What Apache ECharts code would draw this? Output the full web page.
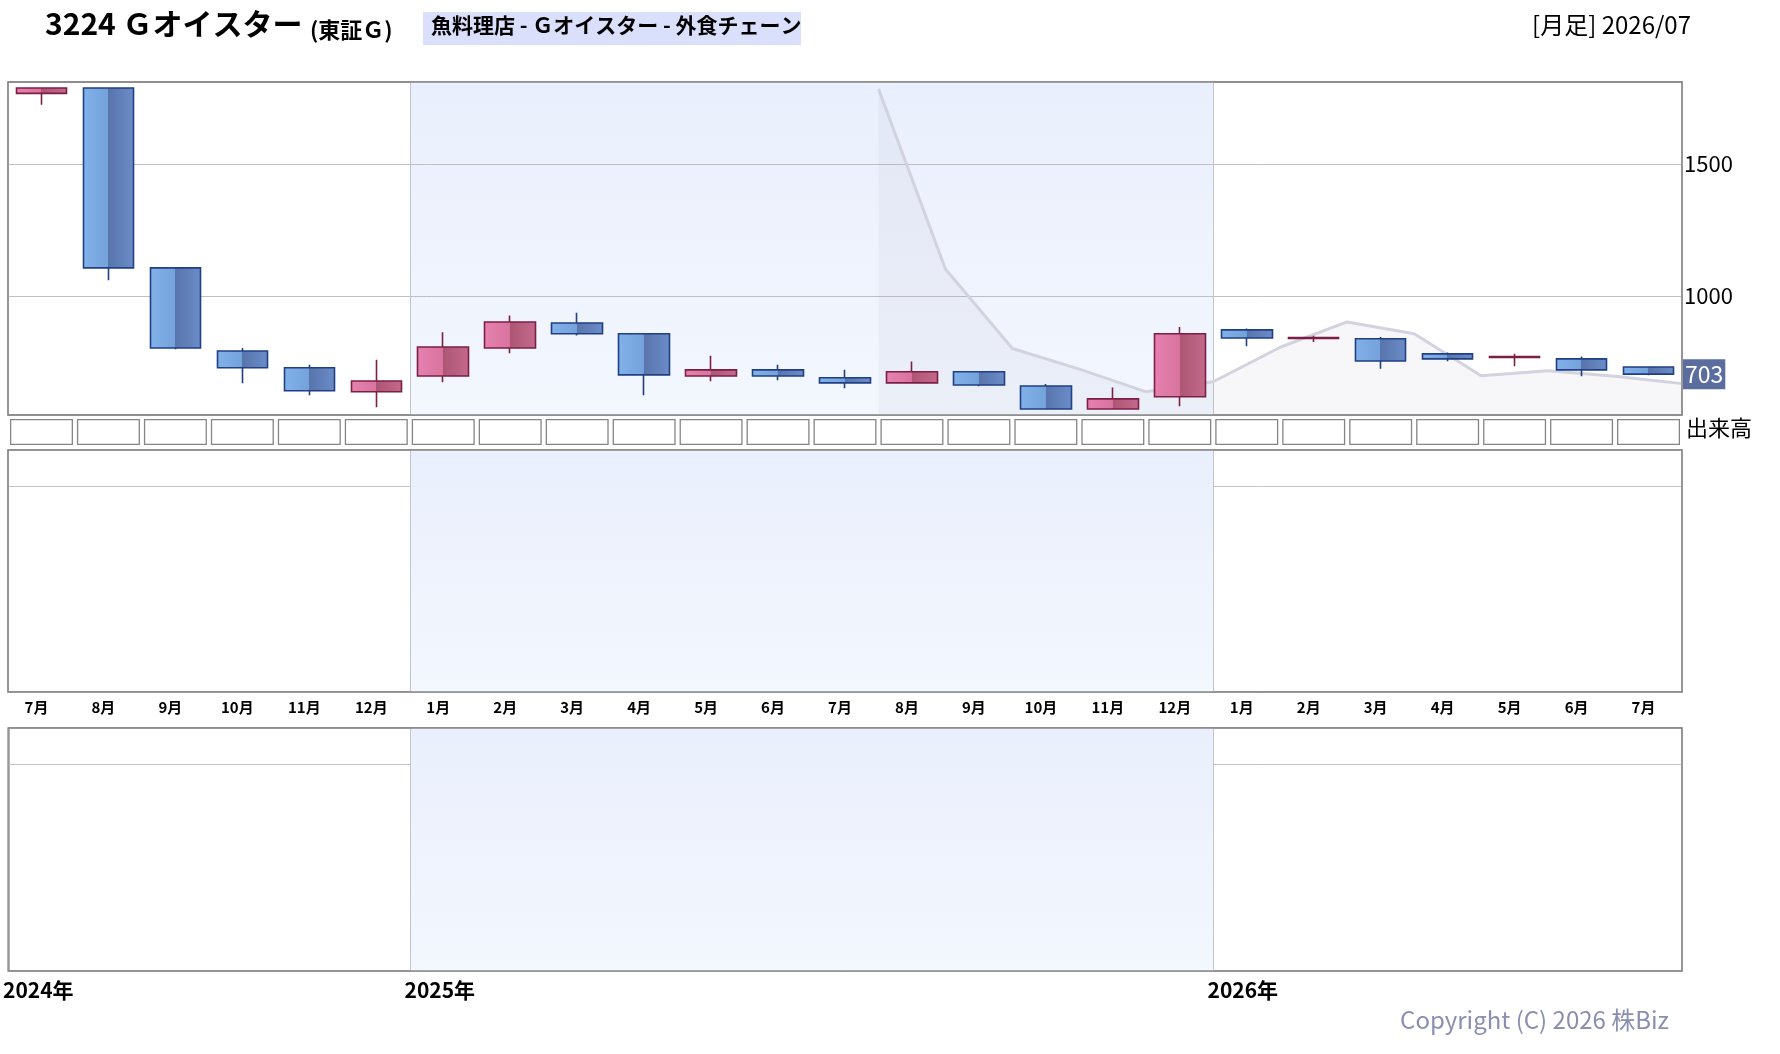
<!DOCTYPE html>
<html>
<head>
<meta charset="utf-8">
<script src="https://cdn.jsdelivr.net/npm/echarts@6/dist/echarts.min.js"></script>
<style>
html,body{margin:0;padding:0;background:#fff;}
#chart{width:1780px;height:1054px;}
</style>
</head>
<body>
<div id="chart"></div>
<script>
// ---- data ----
const months = ['2024/07','2024/08','2024/09','2024/10','2024/11','2024/12',
  '2025/01','2025/02','2025/03','2025/04','2025/05','2025/06','2025/07','2025/08','2025/09','2025/10','2025/11','2025/12',
  '2026/01','2026/02','2026/03','2026/04','2026/05','2026/06','2026/07'];
const monthLabels = ['7月','8月','9月','10月','11月','12月',
  '1月','2月','3月','4月','5月','6月','7月','8月','9月','10月','11月','12月',
  '1月','2月','3月','4月','5月','6月','7月'];
const opens  = [1768,1788,1106,791,727,636,696,802,897,856,696,719,689,670,712,658,571,617,871,838,837,780,766,761,730];
const closes = [1788,1106,802,727,640,677,806,901,856,700,719,696,670,712,662,571,609,856,840,842,753,761,770,719,703];
const lows   = [1725,1059,797,668,623,577,672,782,850,623,676,680,649,670,657,571,571,581,809,825,723,752,733,695,699];
const highs  = [1790,1790,1106,802,739,758,862,925,936,856,773,739,720,751,712,666,652,882,876,849,844,785,780,770,731];
// month boundaries (start of each month, plus end)
const monthStarts = ['2024/07','2024/08','2024/09','2024/10','2024/11','2024/12',
  '2025/01','2025/02','2025/03','2025/04','2025/05','2025/06','2025/07','2025/08','2025/09','2025/10','2025/11','2025/12',
  '2026/01','2026/02','2026/03','2026/04','2026/05','2026/06','2026/07','2026/08'];
const yearTickLabels = ['2024年','','','','','','2025年','','','','','','','','','','','','2026年','','','','','','',''];
const trendLine = [null,null,null,null,null,null,null,null,null,null,null,null,null,
  1785,1102,800,722,636,674,805,901,856,697,716,695,667];
const volumeCells = [1,1,1,1,1,1,1,1,1,1,1,1,1,1,1,1,1,1,1,1,1,1,1,1,1];
const priceTicks = [1000,1500];
const shadeFrom = '2025/01', shadeTo = '2026/01';
const yearBounds = ['2025/01','2026/01'];

// ---- styles ----
const FONT = '"Noto Sans CJK JP", "Noto Sans", sans-serif';
const upFill = {type:'linear',x:0,y:0,x2:1,y2:0,colorStops:[
  {offset:0,color:'#e682b0'},{offset:0.49,color:'#d9739f'},{offset:0.5,color:'#ad5673'},{offset:1,color:'#c46a8c'}]};
const downFill = {type:'linear',x:0,y:0,x2:1,y2:0,colorStops:[
  {offset:0,color:'#82b2ea'},{offset:0.49,color:'#74a2da'},{offset:0.5,color:'#5874ad'},{offset:1,color:'#6b8dc8'}]};
const shadeFill = {type:'linear',x:0,y:0,x2:0,y2:1,colorStops:[
  {offset:0,color:'#e9effc'},{offset:1,color:'#f3f7fe'}]};
const sepLine = {color:'#c2c4cc',width:1,type:'solid'};

const chart = echarts.init(document.getElementById('chart'), null, {renderer:'canvas'});

const L = 8, W = 1674;
const grids = [
  {left:L, top:82, width:W, height:333},
  {left:L, top:419, width:W, height:26},
  {left:L, top:450, width:W, height:242},
  {left:L, top:728, width:W, height:243}
];
const gridOpts = grids.map((g,i)=>Object.assign({}, g, {
  show: i!==1, backgroundColor:'#fff', borderColor:'#888', borderWidth: i===1?0:1.3, z:0
}));
// border overlays
[0,2,3].forEach(i=>gridOpts.push(Object.assign({}, grids[i], {show:true, backgroundColor:'transparent', borderColor:'#888', borderWidth:1.3, z:20})));

function shadeSeries(xi, yi){
  return {
    type:'line', xAxisIndex:xi, yAxisIndex:yi, data:[], silent:true, z:1,
    markArea:{silent:true, z:1, itemStyle:{color:shadeFill}, data:[[{xAxis:shadeFrom},{xAxis:shadeTo}]]},
    markLine:{silent:true, z:1, symbol:['none','none'], label:{show:false}, lineStyle:sepLine,
      data: yearBounds.map(b=>({xAxis:b}))}
  };
}

const lastClose = closes[closes.length-1];

const option = {
  animation:false,
  textStyle:{fontFamily:FONT},
  grid: gridOpts,
  xAxis:[
    {type:'category', gridIndex:0, data:months, show:false},
    {type:'category', gridIndex:0, data:monthStarts, boundaryGap:false, show:false},
    {type:'category', gridIndex:1, data:months, show:false},
    {type:'category', gridIndex:2, data:months, axisLine:{show:false}, axisTick:{show:false}, splitLine:{show:false},
      axisLabel:{interval:0, margin:8, color:'#000', fontSize:15, fontWeight:'bold', fontFamily:FONT, padding:[0,10,0,0],
        formatter:(v,i)=>monthLabels[i]}},
    {type:'category', gridIndex:2, data:monthStarts, boundaryGap:false, show:false},
    {type:'category', gridIndex:3, data:monthStarts, boundaryGap:false, axisLine:{show:false}, axisTick:{show:false}, splitLine:{show:false},
      axisLabel:{interval:0, margin:9, align:'left', color:'#000', fontSize:21, fontWeight:'bold', fontFamily:FONT, padding:[0,0,0,-6],
        formatter:(v,i)=>yearTickLabels[i]}}
  ],
  yAxis:[
    {type:'value', gridIndex:0, min:548, max:1811, show:false},
    {type:'value', gridIndex:1, min:0, max:1, show:false},
    {type:'value', gridIndex:2, min:0, max:1, interval:0.85, axisLine:{show:false}, axisTick:{show:false}, axisLabel:{show:false},
      splitLine:{show:true, lineStyle:{color:'#c4c4c4', width:1}}},
    {type:'value', gridIndex:3, min:0, max:1, interval:0.85, axisLine:{show:false}, axisTick:{show:false}, axisLabel:{show:false},
      splitLine:{show:true, lineStyle:{color:'#c4c4c4', width:1}}}
  ],
  series:[
    shadeSeries(1,0),
    {
      type:'line', xAxisIndex:1, yAxisIndex:0, data:[], silent:true, z:2,
      markLine:{silent:true, z:2, symbol:['none','none'], lineStyle:{color:'#c0c0c0', width:1, type:'solid'},
        data: priceTicks.map(v=>({yAxis:v, label:{show:true, position:'end', distance:2, color:'#000', fontSize:22, fontFamily:FONT, formatter:String(v)}}))}
    },
    {
      type:'line', name:'trend', xAxisIndex:1, yAxisIndex:0, data:trendLine, z:3, silent:true,
      symbol:'none', connectNulls:false,
      lineStyle:{color:'#d2d3de', width:3},
      areaStyle:{color:'rgba(120,124,160,0.09)', origin:'start'}
    },
    {
      type:'candlestick', xAxisIndex:0, yAxisIndex:0, z:4, barWidth:51,
      data: months.map((m,i)=>[opens[i], closes[i], lows[i], highs[i]]),
      itemStyle:{color:upFill, color0:downFill, borderColor:'#7c1f46', borderColor0:'#203f84', borderWidth:1.6},
      markLine:{silent:true, z:6, symbol:['none','none'], lineStyle:{color:'rgba(0,0,0,0)', width:0},
        data:[{yAxis:lastClose, lineStyle:{color:'rgba(0,0,0,0)', width:0},
          label:{show:true, position:'end', distance:1, color:'#fff',
          backgroundColor:'#5a6d9e', fontSize:23, fontFamily:FONT, padding:[3,2,4,2], formatter:String(lastClose)}}]}
    },
    {
      type:'bar', xAxisIndex:2, yAxisIndex:1, data:volumeCells, barWidth:63, silent:true, z:2,
      itemStyle:{color:'#fff', borderColor:'#858585', borderWidth:1.3}
    },
    shadeSeries(4,2),
    shadeSeries(5,3)
  ],
  graphic:[
    {type:'text', left:45, top:9, style:{text:'3224 Ｇオイスター', font:'bold 30px '+FONT, fill:'#000'}},
    {type:'text', left:310, top:19, style:{text:'(東証Ｇ)', font:'bold 22px '+FONT, fill:'#000'}},
    {type:'rect', left:423, top:12, shape:{width:378, height:33}, style:{fill:'#dae0fb'}},
    {type:'text', left:431, top:15, style:{text:'魚料理店 - Ｇオイスター - 外食チェーン', font:'bold 21px '+FONT, fill:'#000'}},
    {type:'text', right:89, top:13, style:{text:'[月足] 2026/07', font:'24px '+FONT, fill:'#000'}},
    {type:'text', left:1686, top:417, style:{text:'出来高', font:'22px '+FONT, fill:'#000'}},
    {type:'text', right:111, top:1008, style:{text:'Copyright (C) 2026 株Biz', font:'24px '+FONT, fill:'#8a8fb0'}}
  ]
};
chart.setOption(option);
</script>
</body>
</html>
